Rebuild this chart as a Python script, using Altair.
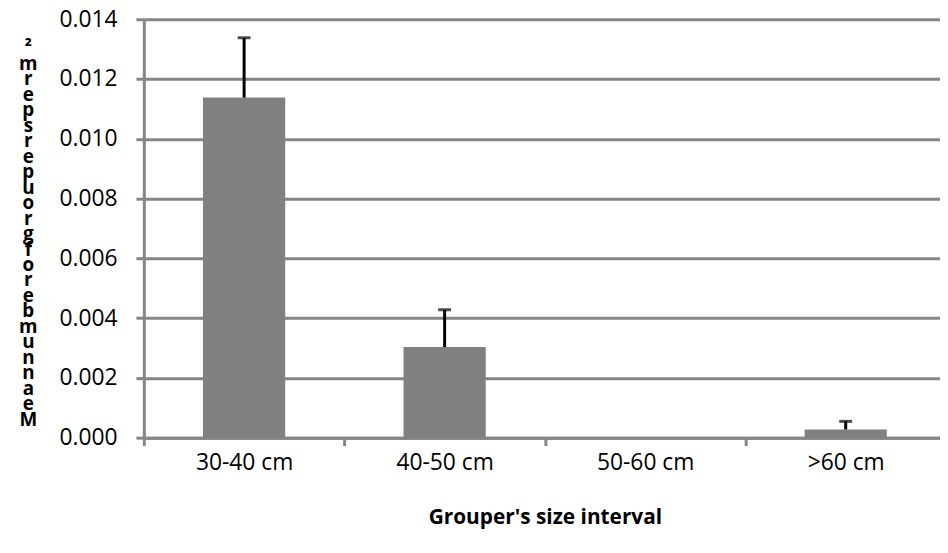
import altair as alt
import pandas as pd

categories = ["30-40 cm", "40-50 cm", "50-60 cm", ">60 cm"]
means = [0.01138, 0.00303, 0.0, 0.000275]
errors = [0.0020, 0.00125, 0.0, 0.00027]
y_ticks = [0.0, 0.002, 0.004, 0.006, 0.008, 0.010, 0.012, 0.014]

y_title_text = "Mean number of groupers per m"
y_title_lines = ["²"] + list(reversed(list(y_title_text)))
x_title_text = "Grouper's size interval"

df = pd.DataFrame({"size": categories, "mean": means, "err": errors})
df["upper"] = df["mean"] + df["err"]

GRAY = "#868686"
FONT = "Open Sans"
RANGE_W = 809
HALF_STEP = RANGE_W / len(categories) / 2

x_enc = alt.X(
    "size:N",
    sort=categories,
    scale=alt.Scale(paddingInner=0.59, paddingOuter=0.295, range=[0, RANGE_W]),
    axis=alt.Axis(
        title=x_title_text,
        labelAngle=0,
        grid=False,
        tickOffset=-HALF_STEP,
        labelOffset=HALF_STEP,
        domainColor=GRAY,
        domainWidth=3,
        tickColor=GRAY,
        tickWidth=3,
        tickSize=8,
        labelFont=FONT,
        labelFontSize=23,
        labelColor="black",
        labelBaseline="middle",
        labelPadding=17,
        titleFont=FONT,
        titleFontSize=21,
        titleFontWeight="bold",
        titleColor="black",
        titleY=81,
        titleBaseline="middle",
    ),
)

y_axis = alt.Axis(
    title=y_title_lines,
    values=y_ticks,
    format=".3f",
    grid=True,
    gridColor=GRAY,
    gridWidth=3,
    domainColor=GRAY,
    domainWidth=3,
    tickColor=GRAY,
    tickWidth=3,
    tickSize=8,
    labelFont=FONT,
    labelFontSize=23,
    labelColor="black",
    labelPadding=19,
    titleFont=FONT,
    titleFontSize=19,
    titleFontWeight="bold",
    titleColor="black",
    titleAngle=0,
    titleAlign="center",
    titleBaseline="top",
    titleX=-117,
    titleY=20,
    titleLineHeight=15.6,
)
y_scale = alt.Scale(domain=[0, 0.014], nice=False)

base = alt.Chart(df)

bars = base.mark_bar(color="#808080").encode(
    x=x_enc,
    y=alt.Y("mean:Q", scale=y_scale, axis=y_axis),
)

err_rule = base.transform_filter("datum.err > 0").mark_rule(
    color="black", strokeWidth=3
).encode(
    x=x_enc,
    y=alt.Y("mean:Q", scale=y_scale, axis=y_axis),
    y2="upper:Q",
)

err_cap = base.transform_filter("datum.err > 0").mark_tick(
    color="black", thickness=3, size=13
).encode(
    x=x_enc,
    y=alt.Y("upper:Q", scale=y_scale, axis=y_axis),
)

chart = (
    alt.layer(bars, err_rule, err_cap)
    .properties(
        width=803,
        height=422,
        autosize=alt.AutoSizeParams(type="none"),
        padding={"left": 137, "top": 9, "right": 0, "bottom": 114},
    )
    .configure_view(stroke=None)
)

chart.save("out.html", embed_options={"renderer": "svg", "actions": False})
